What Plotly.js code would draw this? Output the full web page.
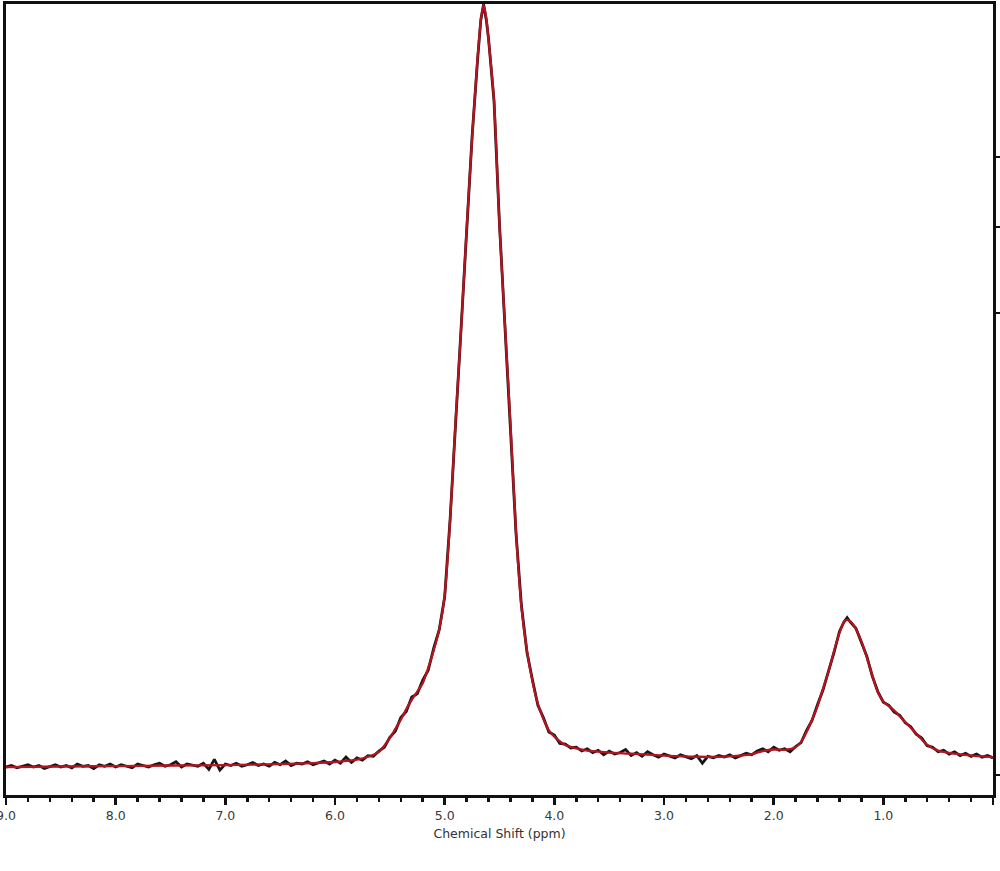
<!DOCTYPE html>
<html>
<head>
<meta charset="utf-8">
<script src="https://cdn.plot.ly/plotly-3.0.1.min.js"></script>
<style>html,body{margin:0;padding:0;background:#fff;}#chart{width:1000px;height:871px;}</style>
</head>
<body>
<div id="chart"></div>
<script>
// Fitted curve (red), chemical shift in ppm and intensity (arbitrary units, peak = 100)
const fitPpm = [9.0,8.5,8.0,7.5,7.0,6.5,6.2,6.0,5.9,5.8,5.7,5.6,5.5,5.45,5.4,5.35,5.3,5.25,5.2,5.15,5.1,5.05,5.0,4.95,4.9,4.85,4.8,4.75,4.7,4.67,4.645,4.62,4.6,4.55,4.5,4.45,4.4,4.35,4.3,4.25,4.2,4.15,4.1,4.05,4.0,3.9,3.8,3.7,3.5,3.3,3.0,2.7,2.4,2.2,2.1,2.0,1.9,1.8,1.75,1.7,1.65,1.6,1.55,1.5,1.45,1.4,1.36,1.33,1.3,1.25,1.2,1.15,1.1,1.05,1.0,0.95,0.9,0.8,0.7,0.6,0.5,0.4,0.3,0.2,0.1,0.0];
const fitInt = [0.0,0.07,0.13,0.2,0.26,0.39,0.52,0.66,0.8,0.98,1.35,2.0,3.8,5.0,6.2,7.6,8.8,9.9,11.0,13.0,15.3,18.0,22.5,32.5,45.5,57.5,70.5,82.5,93.0,98.0,100.0,98.2,95.5,87.5,71.0,58.0,45.0,31.0,21.0,15.3,11.3,8.3,6.3,4.8,4.0,2.9,2.45,2.15,1.9,1.75,1.5,1.35,1.4,1.7,2.1,2.3,2.25,2.6,3.3,4.6,6.2,8.0,10.3,12.5,15.2,17.6,19.0,19.3,19.1,18.1,16.5,14.4,12.0,9.8,8.6,8.0,7.4,5.9,4.4,2.9,2.15,1.85,1.65,1.5,1.4,1.3];

// Measured spectrum (black, noisy)
const dataPpm = [9.00,8.95,8.90,8.85,8.80,8.75,8.70,8.65,8.60,8.55,8.50,8.45,8.40,8.35,8.30,8.25,8.20,8.15,8.10,8.05,8.00,7.95,7.90,7.85,7.80,7.75,7.70,7.65,7.60,7.55,7.50,7.45,7.40,7.35,7.30,7.25,7.20,7.15,7.10,7.05,7.00,6.95,6.90,6.85,6.80,6.75,6.70,6.65,6.60,6.55,6.50,6.45,6.40,6.35,6.30,6.25,6.20,6.15,6.10,6.05,6.00,5.95,5.90,5.85,5.80,5.75,5.70,5.65,5.60,5.55,5.50,5.45,5.40,5.35,5.30,5.25,5.20,5.15,5.10,5.05,5.00,4.95,4.90,4.85,4.80,4.75,4.70,4.67,4.645,4.62,4.60,4.55,4.50,4.45,4.40,4.35,4.30,4.25,4.20,4.15,4.10,4.05,4.00,3.95,3.90,3.85,3.80,3.75,3.70,3.65,3.60,3.55,3.50,3.45,3.40,3.35,3.30,3.25,3.20,3.15,3.10,3.05,3.00,2.95,2.90,2.85,2.80,2.75,2.70,2.65,2.60,2.55,2.50,2.45,2.40,2.35,2.30,2.25,2.20,2.15,2.10,2.05,2.00,1.95,1.90,1.85,1.80,1.75,1.70,1.65,1.60,1.55,1.50,1.45,1.40,1.36,1.33,1.30,1.25,1.20,1.15,1.10,1.05,1.00,0.95,0.90,0.85,0.80,0.75,0.70,0.65,0.60,0.55,0.50,0.45,0.40,0.35,0.30,0.25,0.20,0.15,0.10,0.05,0.00];
const dataInt = [0.0,0.2,-0.1,0.1,0.3,0.0,0.2,-0.2,0.1,0.3,0.0,0.2,-0.1,0.4,0.1,0.2,-0.2,0.3,0.1,0.4,0.0,0.3,0.1,-0.1,0.4,0.2,0.0,0.3,0.5,0.1,0.3,0.7,0.0,0.4,0.2,0.1,0.5,-0.3,1.0,-0.4,0.4,0.2,0.5,0.1,0.3,0.6,0.2,0.4,0.1,0.6,0.3,0.8,0.2,0.5,0.4,0.7,0.3,0.6,0.8,0.4,0.9,0.5,1.3,0.6,1.2,0.9,1.5,1.4,2.1,2.6,3.9,4.7,6.5,7.3,9.2,9.6,11.4,12.7,15.6,18.0,22.3,32.6,45.3,57.8,70.4,82.7,92.8,98.1,100.1,98.0,95.6,87.4,71.2,57.8,45.2,30.8,21.2,15.1,11.5,8.1,6.5,4.6,4.2,3.1,3.0,2.5,2.6,2.1,2.4,1.9,2.2,1.6,2.1,1.7,1.9,2.3,1.5,1.9,1.4,2.0,1.6,1.3,1.7,1.4,1.2,1.6,1.3,1.1,1.5,0.5,1.4,1.2,1.5,1.3,1.6,1.2,1.5,1.8,1.6,2.1,2.4,2.0,2.6,2.2,2.4,2.0,2.7,3.2,4.8,6.1,8.2,10.1,12.6,15.0,17.8,19.0,19.6,19.0,18.2,16.4,14.5,11.9,9.9,8.5,8.1,7.2,6.8,5.8,5.3,4.3,3.8,2.8,2.6,2.0,2.2,1.7,2.0,1.5,1.8,1.4,1.7,1.3,1.5,1.2];

// Axis ticks
const xTickVals = [9,8,7,6,5,4,3,2,1,0];
const xTickText = ["9.0","8.0","7.0","6.0","5.0","4.0","3.0","2.0","1.0",""];
const rightTickVals = [80.05,70.87,59.58,-1.05];

const traces = [
  {x: dataPpm, y: dataInt, type: 'scatter', mode: 'lines', name: 'Spectrum',
   line: {color: '#161616', width: 2.8}, hoverinfo: 'x+y'},
  {x: fitPpm, y: fitInt, type: 'scatter', mode: 'lines', name: 'Fit',
   line: {color: '#b3141f', width: 2.3, shape: 'spline', smoothing: 0.6}, hoverinfo: 'x+y'}
];

const layout = {
  width: 1000, height: 871,
  margin: {l: 6, r: 7, t: 4, b: 76},
  paper_bgcolor: '#ffffff', plot_bgcolor: '#ffffff',
  showlegend: false,
  font: {family: 'DejaVu Sans, sans-serif', size: 12, color: '#333333'},
  xaxis: {
    range: [9, 0], autorange: false,
    tickmode: 'array', tickvals: xTickVals, ticktext: xTickText,
    ticks: 'outside', ticklen: 7, tickwidth: 2.5, tickcolor: '#111111',
    ticklabeloverflow: 'allow',
    minor: {tickmode: 'linear', tick0: 0, dtick: 0.2, ticks: 'outside', ticklen: 4, tickwidth: 2.5, tickcolor: '#111111'},
    showline: true, linecolor: '#111111', linewidth: 3, mirror: true,
    showgrid: false, zeroline: false,
    tickfont: {family: 'DejaVu Sans, sans-serif', size: 12.5, color: '#3a3a3a'},
    title: {text: 'Chemical Shift (ppm)', font: {family: 'DejaVu Sans, sans-serif', size: 12.5, color: '#333333'}, standoff: 8}
  },
  yaxis: {
    range: [-3.67, 100.13], autorange: false,
    side: 'right',
    tickmode: 'array', tickvals: rightTickVals,
    ticks: 'outside', ticklen: 6, tickwidth: 2.5, tickcolor: '#111111',
    showticklabels: false,
    showline: true, linecolor: '#111111', linewidth: 3, mirror: true,
    showgrid: false, zeroline: false
  }
};

Plotly.newPlot('chart', traces, layout, {displayModeBar: false, staticPlot: true});
</script>
</body>
</html>
